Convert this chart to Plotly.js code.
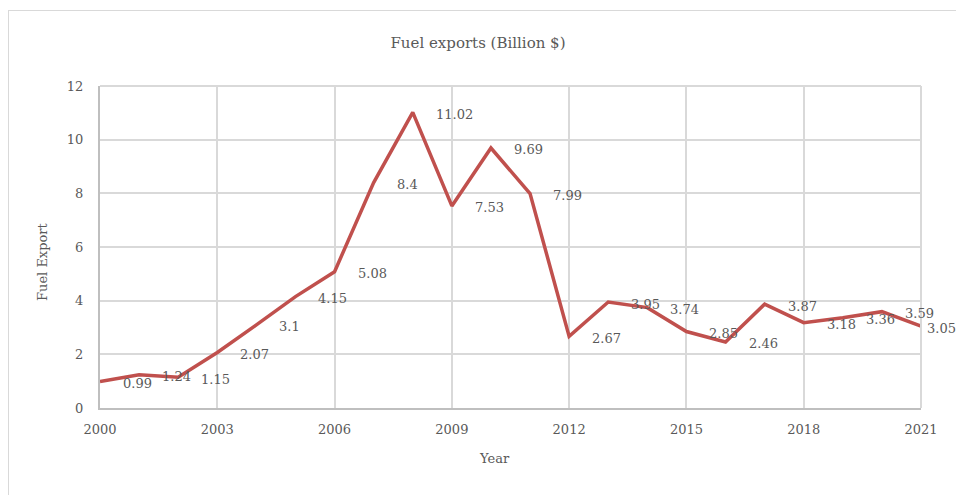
<!DOCTYPE html>
<html>
<head>
<meta charset="utf-8">
<script src="https://cdn.plot.ly/plotly-3.0.1.min.js"></script>
<style>
html,body{margin:0;padding:0;background:#fff;overflow:hidden;}
#wrap{position:absolute;left:0;top:0;width:956px;height:495px;}
#frame{position:absolute;left:8px;top:10px;width:960px;height:500px;border:1px solid #d9d9d9;box-sizing:border-box;pointer-events:none;}
#chart{position:absolute;left:0;top:0;width:956px;height:495px;}
</style>
</head>
<body>
<div id="wrap">
<div id="chart"></div>
<div id="frame"></div>
</div>
<script>
const years = [2000,2001,2002,2003,2004,2005,2006,2007,2008,2009,2010,2011,2012,2013,2014,2015,2016,2017,2018,2019,2020,2021];
const fuelExports = [0.99,1.24,1.15,2.07,3.1,4.15,5.08,8.4,11.02,7.53,9.69,7.99,2.67,3.95,3.74,2.85,2.46,3.87,3.18,3.36,3.59,3.05];
const valueLabels = ["0.99","1.24","1.15","2.07","3.1","4.15","5.08","8.4","11.02","7.53","9.69","7.99","2.67","3.95","3.74","2.85","2.46","3.87","3.18","3.36","3.59","3.05"];
const xTickVals = [2000,2003,2006,2009,2012,2015,2018,2021];
const yTickVals = [0,2,4,6,8,10,12];

const fontFam = "DejaVu Serif, Liberation Serif, serif";
const textCol = "#595959";
const W = 956, H = 495, ML = 100, MR = 35, MT = 86, MB = 87;

const annotations = years.map((y,i)=>({
  x: y, y: fuelExports[i], xref:'x', yref:'y',
  text: valueLabels[i], showarrow:false,
  xanchor:'left', yanchor:'middle', xshift: (i === years.length-1 ? 4 : 21), yshift:-2,
  font:{family:fontFam, size:13, color:textCol}
}));
// axis titles placed as in the reference (offset from plot centre)
annotations.push({
  text:'Fuel Export', showarrow:false, textangle:-90,
  xref:'paper', yref:'paper',
  x:(42-ML)/(W-ML-MR), y:(H-MB-262)/(H-MT-MB), xanchor:'center', yanchor:'middle',
  font:{family:fontFam, size:13, color:textCol}
});
annotations.push({
  text:'Year', showarrow:false,
  xref:'paper', yref:'paper',
  x:(494-ML)/(W-ML-MR), y:(H-MB-459)/(H-MT-MB), xanchor:'center', yanchor:'middle',
  font:{family:fontFam, size:13, color:textCol}
});

const trace = {
  x: years, y: fuelExports, type:'scatter', mode:'lines',
  line:{color:'#c0504d', width:3.5},
  hoverinfo:'skip'
};

const layout = {
  width:W, height:H,
  margin:{l:ML, r:MR, t:MT, b:MB},
  paper_bgcolor:'rgba(0,0,0,0)', plot_bgcolor:'#fff',
  showlegend:false,
  title:{text:'Fuel exports (Billion $)', x:0.5, xanchor:'center', y:1-43/H, yanchor:'middle',
         font:{family:fontFam, size:15, color:textCol}},
  xaxis:{
    range:[2000,2021], tickvals:xTickVals, ticktext:xTickVals.map(String),
    showgrid:true, gridcolor:'#d9d9d9', gridwidth:2,
    showline:true, linecolor:'#bfbfbf', linewidth:2,
    ticks:'', ticklabelstandoff:8, zeroline:false,
    tickfont:{family:fontFam, size:13, color:textCol}
  },
  yaxis:{
    range:[0,12], tickvals:yTickVals,
    showgrid:true, gridcolor:'#d9d9d9', gridwidth:2,
    showline:true, linecolor:'#bfbfbf', linewidth:2,
    ticks:'', ticklabelstandoff:12, zeroline:false,
    tickfont:{family:fontFam, size:13, color:textCol}
  },
  shapes:[{type:'line', xref:'paper', yref:'paper', x0:1, x1:1, y0:0, y1:1, line:{color:'#d9d9d9', width:2}},
          {type:'line', xref:'paper', yref:'paper', x0:0, x1:1, y0:1, y1:1, line:{color:'#d9d9d9', width:2}}],
  annotations: annotations
};

Plotly.newPlot('chart', [trace], layout, {displayModeBar:false, staticPlot:true});
</script>
</body>
</html>
